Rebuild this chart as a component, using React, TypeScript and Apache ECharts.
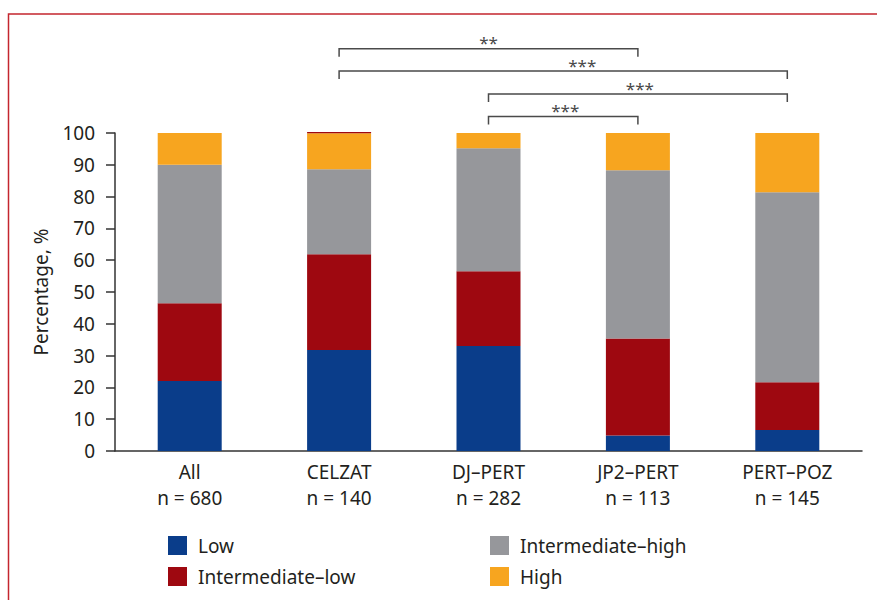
import { useEffect, useRef } from "react";
import * as echarts from "echarts";

const categories = ["All", "CELZAT", "DJ–PERT", "JP2–PERT", "PERT–POZ"];
const counts = [680, 140, 282, 113, 145];

const seriesNames = ["Low", "Intermediate–low", "Intermediate–high", "High"];
const low = [22, 31.8, 33, 4.9, 6.6];
const intermediateLow = [24.5, 30.1, 23.5, 30.5, 15];
const intermediateHigh = [43.5, 26.7, 38.7, 52.9, 59.8];
const high = [10, 11.3, 4.8, 11.7, 18.6];
const topSliver = [0, 0.4, 0, 0, 0];

const yTicks = { min: 0, max: 100, interval: 10 };

const brackets = [
  { from: 1, to: 3, label: "**", y: 48.7, labelShift: 0 },
  { from: 1, to: 4, label: "***", y: 71, labelShift: 19 },
  { from: 2, to: 4, label: "***", y: 94, labelShift: 2 },
  { from: 2, to: 3, label: "***", y: 116.5, labelShift: 2 },
];

const colors = ["#0a3d8a", "#9e0810", "#96979b", "#f7a51f"];
const textColor = "#231f20";
const font = "'Noto Sans', 'Open Sans', sans-serif";

export default function App() {
  const ref = useRef<HTMLDivElement>(null);
  useEffect(() => {
    const chart = echarts.init(ref.current!, null, { renderer: "svg" });
    const values = [low, intermediateLow, intermediateHigh, high];
    const legendText = {
      fontSize: 19,
      fontFamily: font,
      color: textColor,
      lineHeight: 19,
      padding: [0, 0, 0, 6],
    };
    chart.setOption({
      animation: false,
      textStyle: { fontFamily: font },
      grid: { left: 115, right: 15, top: 133, bottom: 149, containLabel: false },
      legend: [
        {
          data: seriesNames.slice(0, 2),
          orient: "vertical",
          left: 168,
          top: 536,
          itemWidth: 19,
          itemHeight: 19,
          itemGap: 12,
          padding: 0,
          icon: "rect",
          selectedMode: false,
          textStyle: legendText,
        },
        {
          data: seriesNames.slice(2, 4),
          orient: "vertical",
          left: 490,
          top: 536,
          itemWidth: 19,
          itemHeight: 19,
          itemGap: 12,
          padding: 0,
          icon: "rect",
          selectedMode: false,
          textStyle: legendText,
        },
      ],
      xAxis: {
        type: "category",
        data: categories.map((c, i) => `${c}\nn = ${counts[i]}`),
        axisLine: { lineStyle: { color: "#333", width: 1.5 } },
        axisTick: { length: 9, lineStyle: { color: "#333", width: 1.5 } },
        axisLabel: {
          interval: 0,
          fontSize: 19,
          lineHeight: 26,
          color: textColor,
          fontFamily: font,
          margin: 8,
        },
      },
      yAxis: {
        type: "value",
        min: yTicks.min,
        max: yTicks.max,
        interval: yTicks.interval,
        name: "Percentage, %",
        nameLocation: "middle",
        nameGap: 65,
        nameTextStyle: { fontSize: 19, color: textColor, fontFamily: font },
        axisLine: { show: true, lineStyle: { color: "#333", width: 1.5 } },
        axisTick: { show: true, length: 9, lineStyle: { color: "#333", width: 1.5 } },
        splitLine: { show: false },
        axisLabel: { fontSize: 19, color: textColor, fontFamily: font, margin: 20 },
      },
      series: [
        ...seriesNames.map((name, i) => ({
          name,
          type: "bar",
          stack: "total",
          barWidth: 64,
          itemStyle: { color: colors[i] },
          data: values[i],
        })),
        {
          name: "sliver",
          type: "bar",
          stack: "total",
          barWidth: 64,
          clip: false,
          itemStyle: { color: colors[1] },
          data: topSliver,
        },
      ],
    });

    const graphics: any[] = [
      {
        type: "rect",
        silent: true,
        shape: { x: 8.5, y: 14, width: 1000, height: 1000 },
        style: { fill: "none", stroke: "#c4262e", lineWidth: 1.5 },
      },
    ];
    brackets.forEach((b) => {
      const x1 = chart.convertToPixel({ xAxisIndex: 0 }, b.from) as number;
      const x2 = chart.convertToPixel({ xAxisIndex: 0 }, b.to) as number;
      graphics.push({
        type: "polyline",
        silent: true,
        shape: {
          points: [
            [x1, b.y + 8],
            [x1, b.y],
            [x2, b.y],
            [x2, b.y + 8],
          ],
        },
        style: { stroke: "#4a4a4a", lineWidth: 1.5, fill: "none" },
      });
      graphics.push({
        type: "text",
        silent: true,
        x: (x1 + x2) / 2 + b.labelShift,
        y: b.y - 6,
        style: {
          text: b.label,
          fill: "#4a4a4a",
          font: `17px ${font}`,
          textAlign: "center",
          textVerticalAlign: "middle",
          align: "center",
          verticalAlign: "middle",
        },
      });
    });
    chart.setOption({ graphic: graphics });
    return () => chart.dispose();
  }, []);
  return (
    <div
      ref={ref}
      style={{ position: "fixed", left: 0, top: 0, width: 877, height: 600, background: "#fff" }}
    />
  );
}
